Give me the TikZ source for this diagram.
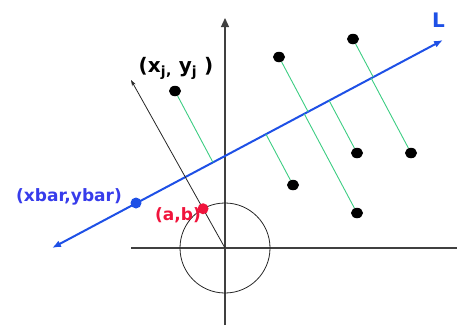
\documentclass[tikz,border=0pt]{standalone}
\usepackage{fontspec}
\setsansfont{DejaVu Sans}
\usetikzlibrary{arrows.meta,calc,shapes.geometric}
\definecolor{lblue}{RGB}{30,80,230}
\definecolor{tblue}{RGB}{55,60,235}
\definecolor{pred}{RGB}{240,20,60}
\definecolor{pgreen}{RGB}{60,205,130}
\tikzset{pt/.style={ellipse,fill=black,inner sep=0pt,minimum width=12pt,minimum height=10.5pt},
proj/.style={pgreen,line width=0.9pt},
lbl/.style={font=\sffamily\bfseries\fontsize{17}{19}\selectfont,inner sep=0pt},
biglbl/.style={font=\sffamily\bfseries\fontsize{20}{22}\selectfont,inner sep=0pt}}

\begin{document}
\begin{tikzpicture}[x=1pt,y=-1pt]
\useasboundingbox(0,0)rectangle(457,325);
\coordinate(o)at(225,248);\coordinate(xl)at(131,248);\coordinate(xr)at(457,248);\coordinate(yb)at(225,325);\coordinate(yt)at(225,18);
\draw[line width=1.2pt,black!75](xl)--(xr);\draw[line width=1.2pt,black!75,-{Triangle[width=8pt,length=9pt]}](yb)--(yt);
\draw[black!85,line width=0.8pt](o)circle[radius=45pt];
% line L
\coordinate(la)at(52,248);\coordinate(lb)at(443,40);
\draw[lblue,line width=2pt,{Latex[length=9pt,width=7pt]}-{Latex[length=9pt,width=7pt]}](la)--(lb);
\node[lblue,biglbl](llab)at(438.5,20.5){L};
% data points
\node[pt](p1)at(175,91){};\node[pt](p2)at(279,57){};\node[pt](p3)at(353,39){};\node[pt](p4)at(293,185){};
\node[pt](p5)at(357,153){};\node[pt](p6)at(411,153){};\node[pt](p7)at(357,213){};
\coordinate(f1)at($(la)!(p1)!(lb)$);\coordinate(f2)at($(la)!(p2)!(lb)$);\coordinate(f3)at($(la)!(p3)!(lb)$);\coordinate(f4)at($(la)!(p4)!(lb)$);
\coordinate(f5)at($(la)!(p5)!(lb)$);\coordinate(f6)at($(la)!(p6)!(lb)$);\coordinate(f7)at($(la)!(p7)!(lb)$);
\draw[proj](p1)--(f1);\draw[proj](p2)--(f2);\draw[proj](p3)--(f3);\draw[proj](p4)--(f4);\draw[proj](p5)--(f5);\draw[proj](p6)--(f6);\draw[proj](p7)--(f7);
% normal direction
\coordinate(n)at(131,80);
\draw[black!85,line width=0.8pt,-{Stealth[length=6pt,width=4pt]}](o)--(n);
\node[biglbl](xylab)at(176,68.5){(x\textsubscript{j}\textsubscript{,} y\textsubscript{j} )};
\node[circle,fill=lblue,inner sep=0pt,minimum size=11pt](m)at(136,203){};\node[lbl,tblue](mlab)at(69,197){(xbar,ybar)};
\node[circle,fill=pred,inner sep=0pt,minimum size=11pt](ab)at($(o)!45pt!(n)$){};\node[lbl,pred](ablab)at(178,215){(a,b)};
\end{tikzpicture}
\end{document}
